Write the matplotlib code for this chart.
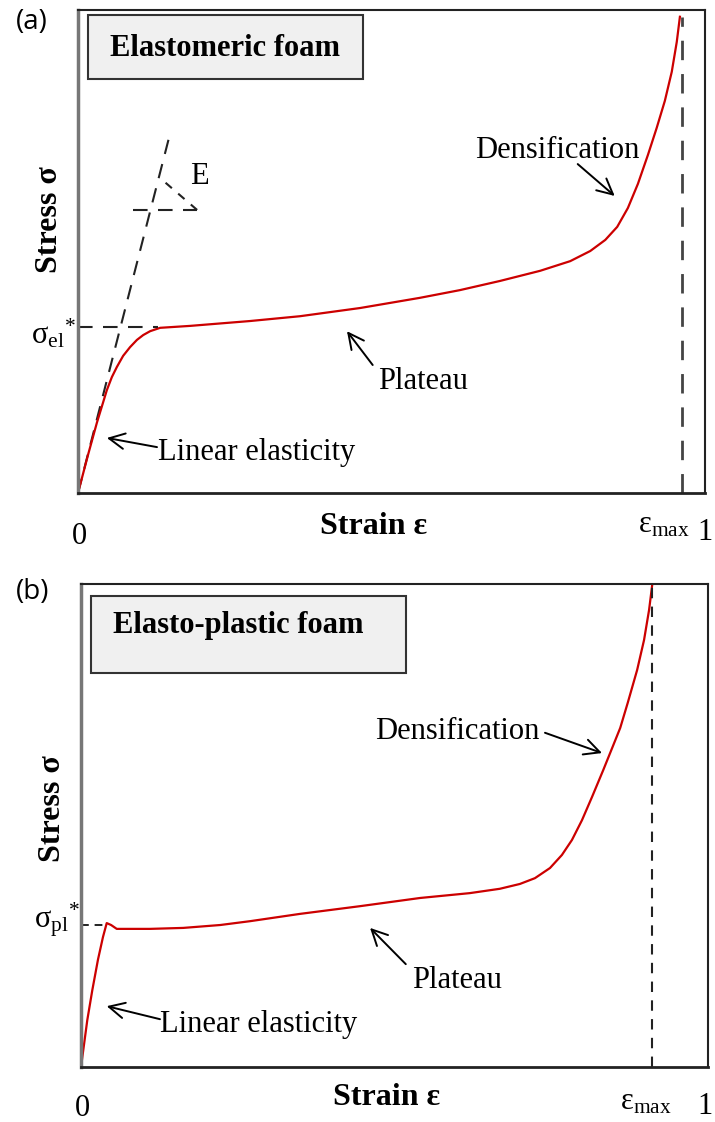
import matplotlib
matplotlib.use("Agg")
import matplotlib.pyplot as plt
from matplotlib.patches import Rectangle

plt.rcParams['font.family'] = ['Liberation Serif', 'DejaVu Serif']
plt.rcParams['mathtext.fontset'] = 'custom'
plt.rcParams['mathtext.rm'] = 'Liberation Serif'
plt.rcParams['mathtext.it'] = 'Liberation Serif:italic'
plt.rcParams['mathtext.bf'] = 'Liberation Serif:bold'

# (a) elastomeric foam, strain / stress (0..1 scale)
strain_a = [0, 0.016, 0.030, 0.046, 0.054, 0.062, 0.072, 0.083, 0.094, 0.104,
            0.115, 0.131, 0.179, 0.274, 0.354, 0.450, 0.545, 0.609, 0.673, 0.737,
            0.785, 0.817, 0.841, 0.860, 0.877, 0.893, 0.909, 0.923, 0.936, 0.947,
            0.955, 0.960]
stress_a = [0, 0.079, 0.145, 0.213, 0.240, 0.261, 0.284, 0.302, 0.317, 0.327,
            0.335, 0.342, 0.346, 0.356, 0.366, 0.383, 0.404, 0.420, 0.439, 0.460,
            0.480, 0.501, 0.524, 0.551, 0.590, 0.640, 0.700, 0.756, 0.812, 0.872,
            0.934, 0.986]
sigma_el = 0.344
eps_max_a = 0.963
modulus_line = [(0, 0), (0.147, 0.745)]

# (b) elasto-plastic foam
strain_b = [0, 0.010, 0.018, 0.027, 0.035, 0.041, 0.048, 0.057, 0.078, 0.110,
            0.163, 0.222, 0.270, 0.349, 0.445, 0.541, 0.620, 0.668, 0.700, 0.724,
            0.748, 0.767, 0.783, 0.799, 0.815, 0.833, 0.847, 0.860, 0.872, 0.887,
            0.898, 0.906, 0.911]
stress_b = [0, 0.097, 0.159, 0.222, 0.269, 0.298, 0.294, 0.286, 0.286, 0.286,
            0.288, 0.294, 0.302, 0.317, 0.333, 0.350, 0.360, 0.369, 0.379, 0.391,
            0.412, 0.439, 0.470, 0.511, 0.559, 0.615, 0.660, 0.702, 0.754, 0.822,
            0.884, 0.946, 0.998]
sigma_pl = 0.294
eps_max_b = 0.911

red = '#cc0000'
fs = 22
arrow = dict(arrowstyle='->', lw=1.4, color='black', mutation_scale=28, shrinkA=0, shrinkB=0)


def setup(ax):
    ax.set_xlim(0, 1)
    ax.set_ylim(0, 1)
    ax.set_xticks([])
    ax.set_yticks([])
    for s in ['top', 'right']:
        ax.spines[s].set_linewidth(1.5)
        ax.spines[s].set_color('#222222')
    ax.spines['bottom'].set_linewidth(2)
    ax.spines['bottom'].set_color('#222222')
    ax.spines['left'].set_linewidth(2.5)
    ax.spines['left'].set_color('#777777')


def title_box(ax, x0, y0, w, h, label, tx, ty):
    ax.add_patch(Rectangle((x0, y0), w, h, transform=ax.transAxes, facecolor='#f0f0f0',
                           edgecolor='#333333', lw=1.5, zorder=3))
    ax.text(tx, ty, label, transform=ax.transAxes, fontsize=fs, fontweight='bold',
            ha='center', va='center', zorder=4)


fig = plt.figure(figsize=(7.15, 11.22), dpi=100)
ax1 = fig.add_axes([0.1091, 0.5606, 0.8769, 0.4305])
ax2 = fig.add_axes([0.1133, 0.0490, 0.8769, 0.4305])

# ---- panel (a)
setup(ax1)
title_box(ax1, 0.016, 0.858, 0.439, 0.131, 'Elastomeric foam', 0.234, 0.921)
ax1.plot(strain_a, stress_a, color=red, lw=1.6, zorder=2)
(x0, y0), (x1, y1) = modulus_line
ax1.plot([x0, x1], [y0, y1], color='#222222', lw=1.5, dashes=(7, 5), zorder=1)
ax1.plot([0, 0.128], [sigma_el, sigma_el], color='#222222', lw=1.5, dashes=(7, 5))
ax1.plot([0.088, 0.190], [0.586, 0.586], color='#222222', lw=1.5, dashes=(7, 5))
ax1.plot([0.190, 0.131], [0.586, 0.652], color='#222222', lw=1.5, dashes=(4, 4))
ax1.plot([eps_max_a, eps_max_a], [0, 0.986], color='#444444', lw=2, dashes=(7, 5))
ax1.text(0.179, 0.656, 'E', fontsize=fs, ha='left', va='center')

ax1.annotate('', xy=(0.046, 0.114), xytext=(0.126, 0.095), arrowprops=arrow)
ax1.text(0.128, 0.083, 'Linear elasticity', fontsize=fs, ha='left', va='center')
ax1.annotate('', xy=(0.429, 0.335), xytext=(0.470, 0.265), arrowprops=arrow)
ax1.text(0.478, 0.230, 'Plateau', fontsize=fs, ha='left', va='center')
ax1.annotate('', xy=(0.856, 0.615), xytext=(0.797, 0.681), arrowprops=arrow)
ax1.text(0.633, 0.710, 'Densification', fontsize=fs, ha='left', va='center')

ax1.text(-0.045, 0.567, 'Stress σ', fontsize=23, fontweight='bold', rotation=90,
         ha='center', va='center')
ax1.text(-0.004, 0.330, r'${\mathrm{\sigma_{el}}}^{*}$', fontsize=fs, ha='right', va='center')
ax1.text(0.472, -0.070, 'Strain ε', fontsize=23, fontweight='bold', ha='center', va='center')
ax1.text(0.003, -0.091, '0', fontsize=fs, ha='center', va='center')
ax1.text(0.935, -0.066, r'$\mathrm{\varepsilon_{max}}$', fontsize=fs, ha='center', va='center')
ax1.text(1.0, -0.081, '1', fontsize=fs, ha='center', va='center')

# ---- panel (b)
setup(ax2)
title_box(ax2, 0.016, 0.816, 0.502, 0.159, 'Elasto-plastic foam', 0.250, 0.915)
ax2.plot(strain_b, stress_b, color=red, lw=1.6, zorder=2)
ax2.plot([0, strain_b[5]], [sigma_pl, sigma_pl], color='#222222', lw=1.4, dashes=(4, 3))
ax2.plot([eps_max_b, eps_max_b], [0, 1], color='#222222', lw=1.5, dashes=(5, 4))

ax2.annotate('', xy=(0.041, 0.126), xytext=(0.126, 0.099), arrowprops=arrow)
ax2.text(0.126, 0.087, 'Linear elasticity', fontsize=fs, ha='left', va='center')
ax2.annotate('', xy=(0.461, 0.288), xytext=(0.518, 0.213), arrowprops=arrow)
ax2.text(0.528, 0.180, 'Plateau', fontsize=fs, ha='left', va='center')
ax2.annotate('', xy=(0.831, 0.650), xytext=(0.740, 0.692), arrowprops=arrow)
ax2.text(0.469, 0.694, 'Densification', fontsize=fs, ha='left', va='center')

ax2.text(-0.046, 0.536, 'Stress σ', fontsize=23, fontweight='bold', rotation=90,
         ha='center', va='center')
ax2.text(-0.002, 0.305, r'${\mathrm{\sigma_{pl}}}^{*}$', fontsize=fs, ha='right', va='center')
ax2.text(0.488, -0.064, 'Strain ε', fontsize=23, fontweight='bold', ha='center', va='center')
ax2.text(0.003, -0.085, '0', fontsize=fs, ha='center', va='center')
ax2.text(0.901, -0.072, r'$\mathrm{\varepsilon_{max}}$', fontsize=fs, ha='center', va='center')
ax2.text(0.996, -0.081, '1', fontsize=fs, ha='center', va='center')

fig.text(32 / 715, 1 - 22 / 1122, '(a)', fontsize=20, family='Open Sans', ha='center', va='center')
fig.text(33 / 715, 1 - 592 / 1122, '(b)', fontsize=20, family='Open Sans', ha='center', va='center')

fig.savefig('out.png', dpi=100)
